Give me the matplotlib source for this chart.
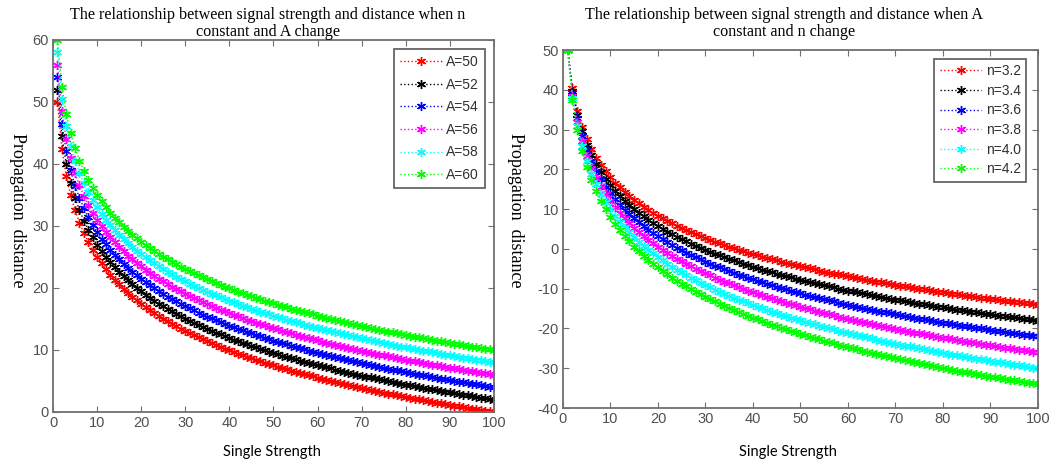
import numpy as np
import matplotlib
matplotlib.use('Agg')
import matplotlib.pyplot as plt

plt.rcParams['axes.unicode_minus'] = False

# signal strength samples (x axis), 1..100
strength = list(range(1, 101))

# left panel: n fixed, A varies
n_fixed = 2.5
A_values = [50, 52, 54, 56, 58, 60]
A_labels = ['A=50', 'A=52', 'A=54', 'A=56', 'A=58', 'A=60']

# right panel: A fixed, n varies
A_fixed = 50
n_values = [3.2, 3.4, 3.6, 3.8, 4.0, 4.2]
n_labels = ['n=3.2', 'n=3.4', 'n=3.6', 'n=3.8', 'n=4.0', 'n=4.2']

colors = ['#ff0000', '#000000', '#0000ff', '#ff00ff', '#00ffff', '#00ff00']

frame_col = '#707070'
tick_col = '#505050'
serif = ['Liberation Serif', 'DejaVu Serif']
star = (6, 2, 0)   # matlab-like asterisk


def style_axes(ax, xlim, ylim, yticks):
    ax.set_xlim(*xlim)
    ax.set_ylim(*ylim)
    ax.set_xticks(range(0, 101, 10))
    ax.set_yticks(yticks)
    ax.tick_params(direction='in', top=True, right=True, length=4,
                   color=frame_col, labelcolor=tick_col, labelsize=10.5, pad=3)
    for lab in ax.get_xticklabels() + ax.get_yticklabels():
        lab.set_family('Liberation Sans')
    for sp in ax.spines.values():
        sp.set_color(frame_col)
        sp.set_linewidth(1.3)


def style_legend(leg):
    leg.get_frame().set_edgecolor('#404040')
    leg.get_frame().set_linewidth(1.3)
    for t in leg.get_texts():
        t.set_color('#303030')
        t.set_family('Liberation Sans')


x = np.array(strength)
fig = plt.figure(figsize=(10.58, 4.67), dpi=100)

# ---- left panel
ax1 = fig.add_axes([0.0501, 0.1178, 0.4168, 0.7966])
for A, lab, c in zip(A_values, A_labels, colors):
    y = A - 10 * n_fixed * np.log10(x)
    ax1.plot(x, y, linestyle=':', marker=star, markersize=6.5, markeredgewidth=1.0,
             linewidth=1, color=c, label=lab)
style_axes(ax1, (0, 100), (0, 60), range(0, 61, 10))
leg = ax1.legend(loc='upper right', bbox_to_anchor=(0.995, 0.995), fontsize=10,
                 frameon=True, fancybox=False, handlelength=3.0,
                 borderpad=0.45, labelspacing=0.62, handletextpad=0.3)
style_legend(leg)
fig.text(0.253, 0.985, 'The relationship between signal strength and distance when n\nconstant and A change',
         ha='center', va='top', fontsize=11.6, family=serif, linespacing=1.1)
fig.text(0.017, 0.55, 'Propagation  distance', rotation=-90, ha='center', va='center',
         fontsize=13, family=serif)
fig.text(0.257, 0.032, 'Single Strength', ha='center', va='center',
         fontsize=10.5, family=['Lato', 'DejaVu Sans'])

# ---- right panel
ax2 = fig.add_axes([0.5321, 0.1263, 0.449, 0.7666])
for n, lab, c in zip(n_values, n_labels, colors):
    y = A_fixed - 10 * n * np.log10(x)
    ax2.plot(x, y, linestyle=':', marker=star, markersize=6.5, markeredgewidth=1.0,
             linewidth=1, color=c, label=lab)
style_axes(ax2, (0, 100), (-40, 50), range(-40, 51, 10))
leg2 = ax2.legend(loc='upper right', bbox_to_anchor=(0.99, 0.995), fontsize=10,
                  frameon=True, fancybox=False, handlelength=3.0,
                  borderpad=0.4, labelspacing=0.4, handletextpad=0.3)
style_legend(leg2)
fig.text(0.741, 0.985, 'The relationship between signal strength and distance when A\nconstant and n change',
         ha='center', va='top', fontsize=11.6, family=serif, linespacing=1.1)
fig.text(0.487, 0.55, 'Propagation  distance', rotation=-90, ha='center', va='center',
         fontsize=13, family=serif)
fig.text(0.745, 0.032, 'Single Strength', ha='center', va='center',
         fontsize=10.5, family=['Lato', 'DejaVu Sans'])

fig.savefig('out.png', dpi=100)
